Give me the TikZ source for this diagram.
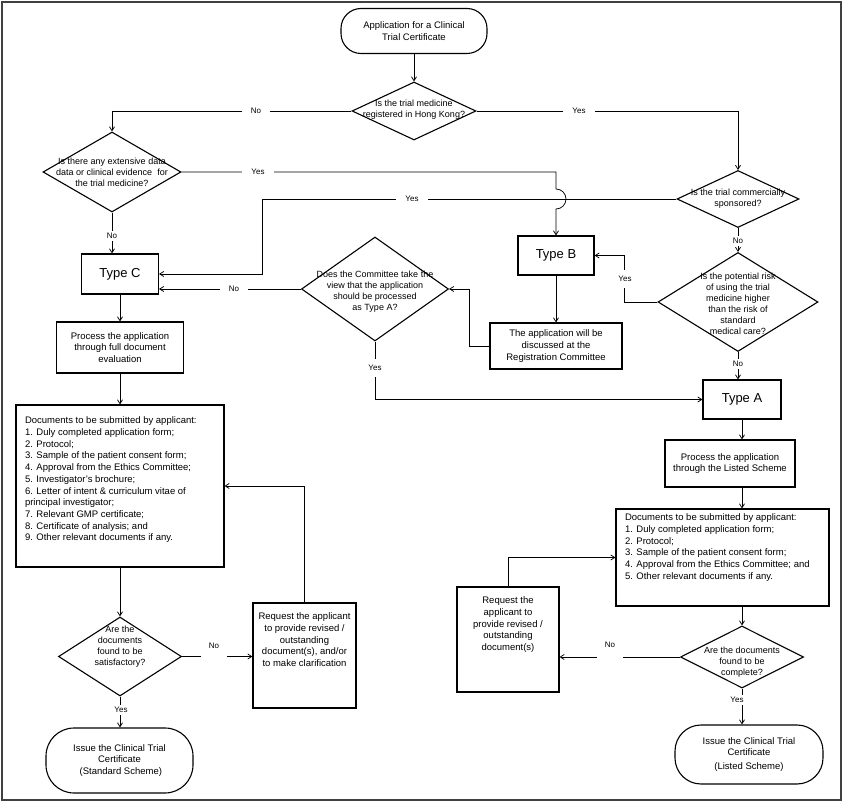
\documentclass[tikz,border=0pt]{standalone}
\usepackage{fontspec}
\setmainfont{Liberation Sans}
\usetikzlibrary{arrows.meta,shapes.geometric,positioning}
\tikzset{
    box/.style={draw,line width=1.1pt,align=center,inner sep=2pt,font=\fontsize{9.5}{11.7}\selectfont},
    type box/.style={box,font=\fontsize{13}{15}\selectfont},
    doc box/.style={draw,line width=1.1pt,inner sep=0pt,font=\fontsize{9.5}{11.7}\selectfont},
    terminal/.style={box,rounded corners=#1},
    terminal/.default=20pt,
    decision/.style={draw,diamond,line width=1.1pt,inner sep=0pt},
    question/.style={align=center,inner sep=0pt,font=\fontsize{9}{11}\selectfont},
    answer/.style={fill=white,inner ysep=2pt,inner xsep=9pt,font=\fontsize{8}{9}\selectfont},
    gap answer/.style={answer,inner ysep=10pt,inner xsep=8pt},
    arr/.style={-{Straight Barb[length=4pt,width=5pt]},line width=0.75pt},
    frame/.style={line width=2.8pt,draw=black!75},
}
\begin{document}
\begin{tikzpicture}[x=1pt,y=-1pt]
    \useasboundingbox (0,0) rectangle (844,802);
    \draw[frame] (2,2) rectangle (841,800);

    % top of the chart
    \node[terminal,minimum width=146pt,minimum height=45pt] (start) at (414,31) {Application for a Clinical\\Trial Certificate};
    \node[decision,minimum width=124pt,minimum height=58pt] (d1) at (414,111) {};
    \node[question] (d1q) at (414,110) {Is the trial medicine\\registered in Hong Kong?};
    \node[decision,minimum width=138pt,minimum height=80pt] (d2) at (112,172) {};
    \node[question] (d2q) at (112,172) {Is there any extensive data\\data or clinical evidence\ \ for\\the trial medicine?};
    \node[decision,minimum width=122pt,minimum height=57pt] (d3) at (738,199) {};
    \node[question] (d3q) at (738,199) {Is the trial commercially\\sponsored?};

    % middle
    \node[type box,minimum width=77pt,minimum height=40pt] (typeC) at (120,274) {Type C};
    \node[type box,minimum width=76pt,minimum height=39pt] (typeB) at (556,255.5) {Type B};
    \node[decision,minimum width=160pt,minimum height=99pt] (d4) at (738,302) {};
    \node[question] (d4q) at (738,304) {Is the potential risk\\of using the trial\\medicine higher\\than the risk of\\standard\\medical care?};
    \node[decision,minimum width=147pt,minimum height=104pt] (d5) at (375,289) {};
    \node[question] (d5q) at (375,292) {Does the Committee take the\\view that the application\\should be processed\\as Type A?};
    \node[box,minimum width=132pt,minimum height=46pt] (regc) at (556,346) {The application will be\\discussed at the\\Registration Committee};
    \node[type box,minimum width=78pt,minimum height=39pt] (typeA) at (742,399.5) {Type A};

    % left branch (standard scheme)
    \node[box,minimum width=127pt,minimum height=51pt] (fulldoc) at (120,347.5) {Process the application\\through full document\\evaluation};
    \node[doc box,minimum width=208pt,minimum height=162pt] (docsL) at (120,486)
        {\parbox[c][138pt][t]{190pt}{\raggedright Documents to be submitted by applicant:\\
        1. Duly completed application form;\\
        2. Protocol;\\
        3. Sample of the patient consent form;\\
        4. Approval from the Ethics Committee;\\
        5. Investigator's brochure;\\
        6. Letter of intent \& curriculum vitae of\\
        principal investigator;\\
        7. Relevant GMP certificate;\\
        8. Certificate of analysis; and\\
        9. Other relevant documents if any.}};
    \node[decision,minimum width=123pt,minimum height=79pt] (d6) at (120,656.5) {};
    \node[question] (d6q) at (120,647) {Are the\\documents\\found to be\\satisfactory?};
    \node[doc box,minimum width=103pt,minimum height=105pt] (reqL) at (304.5,655.5)
        {\parbox[c][85pt][t]{97pt}{\centering Request the applicant\\to provide revised /\\outstanding\\document(s), and/or\\to make clarification}};
    \node[terminal=28pt,minimum width=147pt,minimum height=65pt] (endL) at (119.5,760.5) {Issue the Clinical Trial\\Certificate\\\ (Standard Scheme)};

    % right branch (listed scheme)
    \node[box,minimum width=130pt,minimum height=47pt] (listed) at (730,463.5) {Process the application\\through the Listed Scheme};
    \node[doc box,minimum width=213pt,minimum height=97pt] (docsR) at (722.5,557.5)
        {\parbox[c][87pt][t]{195pt}{\raggedright Documents to be submitted by applicant:\\
        1. Duly completed application form;\\
        2. Protocol;\\
        3. Sample of the patient consent form;\\
        4. Approval from the Ethics Committee; and\\
        5. Other relevant documents if any.}};
    \node[decision,minimum width=123pt,minimum height=62pt] (d7) at (742,657) {};
    \node[question] (d7q) at (742,662) {Are the documents\\found to be\\complete?};
    \node[doc box,minimum width=102pt,minimum height=105pt] (reqR) at (508,639.5)
        {\parbox[c][85pt][t]{97pt}{\centering Request the\\applicant to\\provide revised /\\outstanding\\document(s)}};
    \node[terminal=26pt,minimum width=148pt,minimum height=59pt] (endR) at (749,754.5) {Issue the Clinical Trial\\Certificate\\[2pt](Listed Scheme)};

    % connectors
    \draw[arr] (start) -- (d1);
    \draw[arr] (d1.west) -| (d2.north);
    \draw[arr] (d1.east) -| (d3.north);
    \draw[arr] (d2.east) -- (556,172) -- (556,189) arc[start angle=90,end angle=-90,radius=10pt] -- (typeB.north);
    \draw[arr] (d3.west) -| (262,274) -- (typeC.east);
    \draw[arr] (d2.south) -- (d2.south |- typeC.north);
    \draw[arr] (d3.south) -- (d4.north);
    \draw[arr] (d4.west) -- ++(-33,0) |- (typeB.east);
    \draw[arr] (typeB) -- (regc);
    \draw[arr] (regc.west) -- ++(-20,0) |- (d5.east);
    \draw[arr] (d5.west) -- (d5.west -| typeC.east);
    \draw[arr] (d5.south) |- (typeA.west);
    \draw[arr] (d4.south) -- (d4.south |- typeA.north);
    \draw[arr] (typeC) -- (fulldoc);
    \draw[arr] (fulldoc) -- (docsL);
    \draw[arr] (docsL) -- (d6);
    \draw[arr] (d6.east) -- (reqL.west |- d6.east);
    \draw[arr] (reqL.north) |- (docsL.east);
    \draw[arr] (d6.south) -- (d6.south |- endL.north);
    \draw[arr] (typeA) -- (typeA.south |- listed.north);
    \draw[arr] (typeA.south |- listed.south) -- (typeA.south |- docsR.north);
    \draw[arr] (typeA.south |- docsR.south) -- (d7.north);
    \draw[arr] (d7.west) -- (reqR.east |- d7.west);
    \draw[arr] (reqR.north) |- (docsR.west);
    \draw[arr] (d7.south) -- (d7.south |- endR.north);

    % answers on the connectors
    \node[answer] (noA) at (256,111) {No};
    \node[answer] (yesA) at (579,111) {Yes};
    \node[answer] (yesB) at (258,172) {Yes};
    \node[answer] (yesC) at (412,199) {Yes};
    \node[answer] (noC) at (112,236) {No};
    \node[answer] (noD) at (738,241) {No};
    \node[answer,inner xsep=2pt,inner ysep=6pt] (yesD) at (625,279) {Yes};
    \node[answer] (noE) at (738,364) {No};
    \node[answer] (noF) at (234,289) {No};
    \node[answer,inner xsep=2pt,inner ysep=6pt] (yesF) at (375,368) {Yes};
    \node[gap answer] (noG) at (214,646) {No};
    \node[answer,inner xsep=2pt] (yesG) at (121,710) {Yes};
    \node[gap answer] (noH) at (610,645) {No};
    \node[answer,inner xsep=2pt] (yesH) at (737,700) {Yes};
\end{tikzpicture}
\end{document}
